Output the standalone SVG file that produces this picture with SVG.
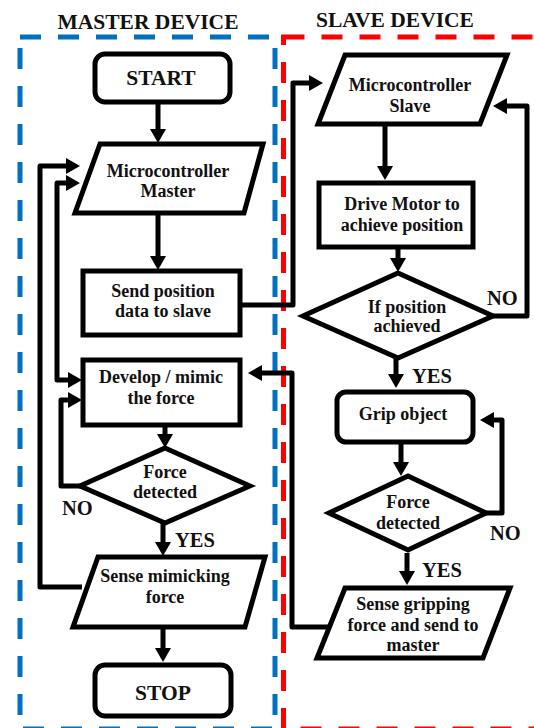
<svg xmlns="http://www.w3.org/2000/svg" width="534" height="728" viewBox="0 0 534 728">
<style>
.n{fill:#fff;stroke:#000;stroke-width:5;stroke-linejoin:miter}
.t{font-family:"Liberation Serif","Times New Roman",serif;font-weight:bold;font-size:18px;fill:#111;text-anchor:middle}
.big{font-size:21.5px}
.lb{font-family:"Liberation Serif","Times New Roman",serif;font-weight:bold;font-size:20.5px;fill:#111}
.c{fill:none;stroke:#000;stroke-width:5;stroke-linejoin:round}
.ca{fill:none;stroke:#000;stroke-width:5;stroke-linejoin:round;marker-end:url(#ah)}
</style>
<defs>
<marker id="ah" markerUnits="userSpaceOnUse" markerWidth="16" markerHeight="18" refX="0" refY="8" orient="auto" overflow="visible">
<path d="M0,0 L14,8 L0,16 z" fill="#000"/>
</marker>
</defs>
<rect width="534" height="728" fill="#fff"/>
<g id="frames">
<rect x="20" y="37" width="255" height="692" fill="none" stroke="#0070C0" stroke-width="5" stroke-dasharray="21 17"/>
<rect x="283.5" y="37" width="262" height="692" fill="none" stroke="#FF0000" stroke-width="5" stroke-dasharray="21 17"/>
<text class="t big" x="148" y="29">MASTER DEVICE</text>
<text class="t big" x="395" y="27">SLAVE DEVICE</text>
</g>
<g id="connectors">
<path class="ca" d="M158,102 V129"/>
<path class="ca" d="M158,213 V256"/>
<path class="ca" d="M240,305 H293 V83 H309"/>
<path class="ca" d="M385,124 V166"/>
<path class="ca" d="M398,247 V258"/>
<path class="ca" d="M493,316 H527 V106 H507"/>
<path class="ca" d="M396,358 V374"/>
<path class="ca" d="M401,442 V462"/>
<path class="ca" d="M486,513 H502 V420 H494"/>
<path class="ca" d="M407,553 V571"/>
<path class="ca" d="M328,627 H292 V373 H262"/>
<path class="ca" d="M80,486 H61 V400 H68"/>
<path class="ca" d="M57,300 V183 H66"/>
<path class="ca" d="M57,300 V380 H68"/>
<path class="ca" d="M82,587 H40 V166 H66"/>
<path class="ca" d="M165,425 V434"/>
<path class="ca" d="M163,523 V542"/>
<path class="ca" d="M163,627 V648"/>
<text class="lb" x="62" y="515">NO</text>
<text class="lb" x="175" y="547">YES</text>
<text class="lb" x="487" y="305">NO</text>
<text class="lb" x="412" y="383">YES</text>
<text class="lb" x="490" y="540">NO</text>
<text class="lb" x="422" y="577">YES</text>
</g>
<g id="start">
<rect class="n" x="95" y="54" width="135" height="48" rx="10"/>
<text class="t big" x="161" y="85">START</text>
</g>
<g id="mc-master">
<polygon class="n" points="100,144 263,144 244,213 75,213"/>
<text class="t" x="168" y="177">Microcontroller</text>
<text class="t" x="168" y="197">Master</text>
</g>
<g id="send-pos">
<rect class="n" x="83" y="271" width="157" height="64"/>
<text class="t" x="163" y="297">Send position</text>
<text class="t" x="163" y="317">data to slave</text>
</g>
<g id="develop">
<rect class="n" x="83" y="360" width="157" height="65"/>
<text class="t" x="161" y="383">Develop / mimic</text>
<text class="t" x="161" y="404">the force</text>
</g>
<g id="force-master">
<polygon class="n" points="165,448 250,486 165,523 80,486"/>
<text class="t" x="165" y="478">Force</text>
<text class="t" x="165" y="498">detected</text>
</g>
<g id="sense-mimic">
<polygon class="n" points="98,557 265,557 245,627 73,627"/>
<text class="t" x="165" y="582">Sense mimicking</text>
<text class="t" x="165" y="603">force</text>
</g>
<g id="stop">
<rect class="n" x="95" y="665" width="136" height="51" rx="10"/>
<text class="t big" x="163" y="700">STOP</text>
</g>
<g id="mc-slave">
<polygon class="n" points="345,55 507,55 480,124 318,124"/>
<text class="t" x="410" y="91">Microcontroller</text>
<text class="t" x="410" y="112">Slave</text>
</g>
<g id="drive">
<rect class="n" x="319" y="183" width="154" height="64"/>
<text class="t" x="402" y="210">Drive Motor to</text>
<text class="t" x="402" y="231">achieve position</text>
</g>
<g id="if-pos">
<polygon class="n" points="398,273 493,316 398,358 303,316"/>
<text class="t" x="407" y="313">If position</text>
<text class="t" x="407" y="332">achieved</text>
</g>
<g id="grip">
<rect class="n" x="337" y="392" width="136" height="50" rx="9"/>
<text class="t" x="403" y="420">Grip object</text>
</g>
<g id="force-slave">
<polygon class="n" points="408,476 486,513 408,550 329,513"/>
<text class="t" x="408" y="508">Force</text>
<text class="t" x="408" y="529">detected</text>
</g>
<g id="sense-grip">
<polygon class="n" points="345,588 510,588 483,658 317,658"/>
<text class="t" x="413" y="610">Sense gripping</text>
<text class="t" x="413" y="631">force and send to</text>
<text class="t" x="413" y="651">master</text>
</g>
</svg>
